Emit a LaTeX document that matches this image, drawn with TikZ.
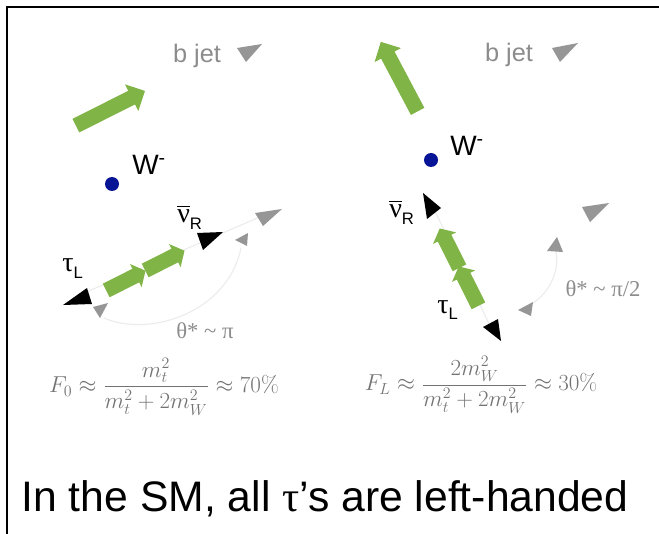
\documentclass[tikz,border=0pt]{standalone}
\usepackage{amsmath,amssymb}
\usepackage{xcolor}
\usepackage[no-math]{fontspec}
\setmainfont{Liberation Sans}
\newfontfamily\greekfont{Liberation Serif}
\usepackage{tikz}
\usetikzlibrary{shapes.arrows}

\definecolor{arrgreen}{RGB}{128,180,70}
\definecolor{dotblue}{RGB}{8,20,150}
\definecolor{trigray}{RGB}{150,150,150}
\definecolor{textgray}{RGB}{140,140,140}

\begin{document}
\begin{tikzpicture}[
    x=0.75pt, y=-0.75pt,
    garrow/.style={single arrow, fill=arrgreen, draw=none, inner xsep=0pt, inner ysep=5.5pt, single arrow head extend=5.5pt, single arrow tip angle=90},
    smallarrow/.style={garrow, inner ysep=5.5pt, single arrow head extend=4pt, single arrow tip angle=100, minimum height=33pt},
    wdot/.style={circle, fill=dotblue, inner sep=0pt, minimum size=10.5pt},
    gtri/.style={fill=trigray},
    btri/.style={fill=black},
    faint/.style={draw=black!8, line width=0.8pt},
    label/.style={inner sep=0pt, font=\fontsize{21}{21}\selectfont},
    gtext/.style={inner sep=0pt, text=textgray, font=\fontsize{19}{19}\selectfont},
    eqn/.style={inner sep=0pt, text=black!55, font=\fontsize{18.5}{18.5}\selectfont}
]
    \useasboundingbox (0,0) rectangle (659,534);
    \draw[line width=1.3pt] (7,534) -- (7,7) -- (659,7);

    % left panel: theta* ~ pi
    \draw[faint] (75,297) -- (262,216);
    \draw[faint] (104,318) .. controls (150,338) and (228,312) .. (241,248);
    \node[gtext] (bjetL) at (197,56) {b jet};
    \fill[gtri] (237,48) -- (262,44) -- (246,62) -- cycle;
    \node[garrow, minimum height=58pt, rotate=26.6] (boostL) at (107,110) {};
    \node[wdot] (dotL) at (112,184) {};
    \node[label, anchor=base west] (wL) at (132,175) {W\textsuperscript{-}};
    \node[label, anchor=base west] (nuL) at (177,223) {$\overline{\mbox{\greekfont ν}}$\raisebox{-0.45ex}{\fontsize{12.5}{12.5}\selectfont R}};
    \fill[btri] (197,233) -- (223,232) -- (203,250) -- cycle;
    \fill[gtri] (235,240) -- (248,233) -- (247,246) -- cycle;
    \fill[gtri] (255,213) -- (282,209) -- (263,226) -- cycle;
    \node[smallarrow, rotate=26.6] (spinL1) at (123,282) {};
    \node[smallarrow, rotate=26.6] (spinL2) at (162,262) {};
    \node[label, anchor=base west] (tauL) at (62,272) {{\greekfont τ}\raisebox{-0.45ex}{\fontsize{12.5}{12.5}\selectfont L}};
    \fill[btri] (63,305) -- (87,288) -- (92,304) -- cycle;
    \fill[gtri] (93,307) -- (108,303) -- (100,318) -- cycle;
    \node[gtext, font=\greekfont\fontsize{17}{17}\selectfont] (thetaL) at (205,331) {θ* \textasciitilde{} π};
    \node[eqn] (eqL) at (164,387) {$\displaystyle F_0\approx\frac{m_t^2}{m_t^2+2m_W^2}\approx 70\%$};

    % right panel: theta* ~ pi/2
    \draw[faint] (432,205) -- (492,330);
    \draw[faint] (556,252) .. controls (560,272) and (548,296) .. (528,306);
    \node[gtext] (bjetR) at (509,55) {b jet};
    \fill[gtri] (552,48) -- (578,43) -- (560,62) -- cycle;
    \node[garrow, minimum height=59pt, rotate=117.9] (boostR) at (401,80) {};
    \node[wdot] (dotR) at (431,160) {};
    \node[label, anchor=base west] (wR) at (450,156) {W\textsuperscript{-}};
    \node[label, anchor=base west] (nuR) at (389,218) {$\overline{\mbox{\greekfont ν}}$\raisebox{-0.45ex}{\fontsize{12.5}{12.5}\selectfont R}};
    \fill[btri] (423,193) -- (441,208) -- (427,219) -- cycle;
    \node[smallarrow, rotate=116.6] (spinR1) at (451,251) {};
    \node[smallarrow, rotate=116.6] (spinR2) at (470,289) {};
    \node[label, anchor=base west] (tauR) at (437,313) {{\greekfont τ}\raisebox{-0.45ex}{\fontsize{12.5}{12.5}\selectfont L}};
    \fill[btri] (483,327) -- (498,319) -- (501,341) -- cycle;
    \fill[gtri] (518,310) -- (533,302) -- (531,316) -- cycle;
    \fill[gtri] (547,251) -- (557,237) -- (563,252) -- cycle;
    \fill[gtri] (582,207) -- (609,203) -- (590,222) -- cycle;
    \node[gtext, font=\greekfont\fontsize{17}{17}\selectfont] (thetaR) at (603,289) {θ* \textasciitilde{} π/2};
    \node[eqn] (eqR) at (481,385) {$\displaystyle F_L\approx\frac{2m_W^2}{m_t^2+2m_W^2}\approx 30\%$};

    \node[inner sep=0pt, anchor=base, font=\fontsize{32}{32}\selectfont] (caption) at (325,511) {In the SM, all {\greekfont τ}’s are left-handed};
\end{tikzpicture}
\end{document}
